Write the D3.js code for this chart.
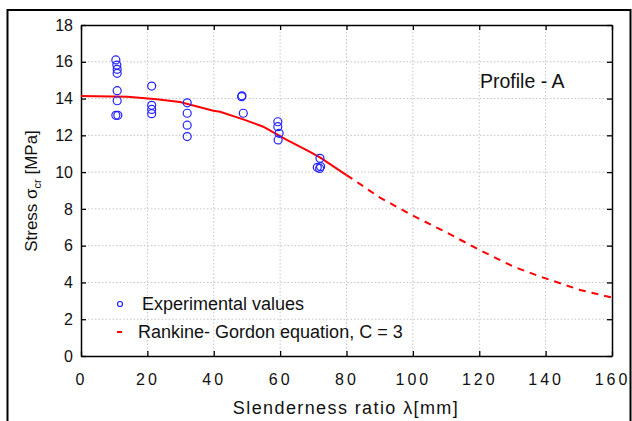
<!DOCTYPE html>
<html>
<head>
<meta charset="utf-8">
<script src="https://cdn.jsdelivr.net/npm/d3@7"></script>
<style>
  body { margin: 0; background: #fff; }
  text { font-family: "Liberation Sans", Arial, sans-serif; fill: #111; }
</style>
</head>
<body>
<div id="chart"></div>
<script>
// Experimental points (slenderness ratio, stress)
const expLambda = [10.5, 10.8, 10.9, 10.9, 10.9, 10.9, 10.5, 11.1,
  21.3, 21.3, 21.3, 21.3,
  32.0, 32.0, 32.0, 32.0,
  48.4, 48.5, 48.9,
  59.3, 59.3, 59.7, 59.4,
  72.0, 71.2, 71.9, 72.2];
const expStress = [16.10, 15.82, 15.59, 15.37, 14.43, 13.88, 13.09, 13.09,
  14.68, 13.63, 13.41, 13.18,
  13.77, 13.20, 12.55, 11.93,
  14.10, 14.15, 13.20,
  12.74, 12.47, 12.11, 11.75,
  10.75, 10.26, 10.20, 10.30];

// Rankine-Gordon curve
const curveLambda = [0, 14, 22.8, 29.8, 39.9, 41.9, 48.9, 54.9, 62, 68, 72, 80,
  83, 90.1, 99.6, 110.2, 120.2, 130.3, 139.3, 150.4, 160];
const curveStress = [14.14, 14.10, 13.96, 13.81, 13.34, 13.28, 12.87, 12.47, 11.75, 11.20, 10.80, 9.84,
  9.48, 8.61, 7.67, 6.71, 5.76, 4.86, 4.26, 3.59, 3.18];
const solidLimit = 82;

const xTicks = [0, 20, 40, 60, 80, 100, 120, 140, 160];
const yTicks = [0, 2, 4, 6, 8, 10, 12, 14, 16, 18];

const dimensions = {
  width: 632,
  height: 421,
  margin: { top: 25, right: 20, bottom: 65, left: 81 },
};
dimensions.boundedWidth = dimensions.width - dimensions.margin.left - dimensions.margin.right;
dimensions.boundedHeight = dimensions.height - dimensions.margin.top - dimensions.margin.bottom;

const svg = d3.select("#chart").append("svg")
  .attr("width", dimensions.width)
  .attr("height", dimensions.height);

// outer frame
svg.append("rect")
  .attr("x", 7.5).attr("y", 10)
  .attr("width", 623).attr("height", 430)
  .attr("fill", "none").attr("stroke", "#000").attr("stroke-width", 2);

const bounds = svg.append("g")
  .attr("transform", `translate(${dimensions.margin.left},${dimensions.margin.top})`);

const xScale = d3.scaleLinear().domain([0, 160]).range([0, dimensions.boundedWidth]);
const yScale = d3.scaleLinear().domain([0, 18]).range([dimensions.boundedHeight, 0]);

// grid
bounds.append("g").selectAll("line")
  .data(xTicks.slice(1, -1)).join("line")
  .attr("x1", d => xScale(d)).attr("x2", d => xScale(d))
  .attr("y1", 0).attr("y2", dimensions.boundedHeight)
  .attr("stroke", "#c4c4c4").attr("stroke-dasharray", "1.5,2");
bounds.append("g").selectAll("line")
  .data(yTicks.slice(1, -1)).join("line")
  .attr("y1", d => yScale(d)).attr("y2", d => yScale(d))
  .attr("x1", 0).attr("x2", dimensions.boundedWidth)
  .attr("stroke", "#c4c4c4").attr("stroke-dasharray", "1.5,2");

// axes with inward ticks
const xAxis = bounds.append("g")
  .attr("transform", `translate(0,${dimensions.boundedHeight})`)
  .call(d3.axisBottom(xScale).tickValues(xTicks).tickSizeInner(-5).tickSizeOuter(0).tickPadding(18));
const xAxisTop = bounds.append("g")
  .call(d3.axisTop(xScale).tickValues(xTicks).tickSizeInner(-5).tickSizeOuter(0).tickFormat(""));
const yAxis = bounds.append("g")
  .call(d3.axisLeft(yScale).tickValues(yTicks).tickSizeInner(-5).tickSizeOuter(0).tickPadding(8));
const yAxisRight = bounds.append("g")
  .attr("transform", `translate(${dimensions.boundedWidth},0)`)
  .call(d3.axisRight(yScale).tickValues(yTicks).tickSizeInner(-5).tickSizeOuter(0).tickFormat(""));

[xAxis, xAxisTop, yAxis, yAxisRight].forEach(a => {
  a.select(".domain").attr("stroke", "#000").attr("stroke-width", 1.5);
  a.selectAll(".tick line").attr("stroke", "#000").attr("stroke-width", 1.3);
  a.selectAll(".tick text")
    .style("font-family", "'Liberation Sans', Arial, sans-serif")
    .style("font-size", "16px").attr("fill", "#111");
});
xAxis.selectAll(".tick text").attr("letter-spacing", "3px");

// curve
const lineGenerator = d3.line()
  .x(d => xScale(d[0]))
  .y(d => yScale(d[1]));
const curve = curveLambda.map((l, i) => [l, curveStress[i]]);
bounds.append("path")
  .attr("d", lineGenerator(curve.filter(d => d[0] <= solidLimit)))
  .attr("fill", "none").attr("stroke", "#ff0000").attr("stroke-width", 2);
bounds.append("path")
  .attr("d", lineGenerator(curve.filter(d => d[0] >= 80)))
  .attr("fill", "none").attr("stroke", "#ff0000").attr("stroke-width", 2)
  .attr("stroke-dasharray", "7,6");

// experimental points
bounds.append("g").selectAll("circle")
  .data(expLambda.map((l, i) => [l, expStress[i]])).join("circle")
  .attr("cx", d => xScale(d[0]))
  .attr("cy", d => yScale(d[1]))
  .attr("r", 4)
  .attr("fill", "none").attr("stroke", "#2222ff").attr("stroke-width", 1.2);

// annotation
bounds.append("text")
  .attr("x", 399).attr("y", 63)
  .style("font-size", "19.5px")
  .text("Profile - A");

// legend
bounds.append("circle")
  .attr("cx", 39).attr("cy", 279).attr("r", 2.5)
  .attr("fill", "none").attr("stroke", "#2222ff").attr("stroke-width", 1.2);
bounds.append("text")
  .attr("x", 61).attr("y", 285)
  .style("font-size", "18px")
  .text("Experimental values");
bounds.append("line")
  .attr("x1", 36).attr("x2", 41).attr("y1", 307).attr("y2", 307)
  .attr("stroke", "#ff0000").attr("stroke-width", 2);
bounds.append("text")
  .attr("x", 57).attr("y", 313)
  .style("font-size", "18px")
  .text("Rankine- Gordon equation, C = 3");

// axis titles
svg.append("text")
  .attr("x", 346).attr("y", 414)
  .attr("text-anchor", "middle")
  .attr("letter-spacing", "1.4px")
  .style("font-size", "18px")
  .text("Slenderness ratio λ[mm]");

const yTitle = svg.append("text")
  .attr("transform", "translate(37,191) rotate(-90)")
  .attr("text-anchor", "middle")
  .style("font-size", "17px");
yTitle.append("tspan").text("Stress σ");
yTitle.append("tspan").attr("dy", 4).style("font-size", "11px").text("cr");
yTitle.append("tspan").attr("dy", -4).text(" [MPa]");
</script>
</body>
</html>
